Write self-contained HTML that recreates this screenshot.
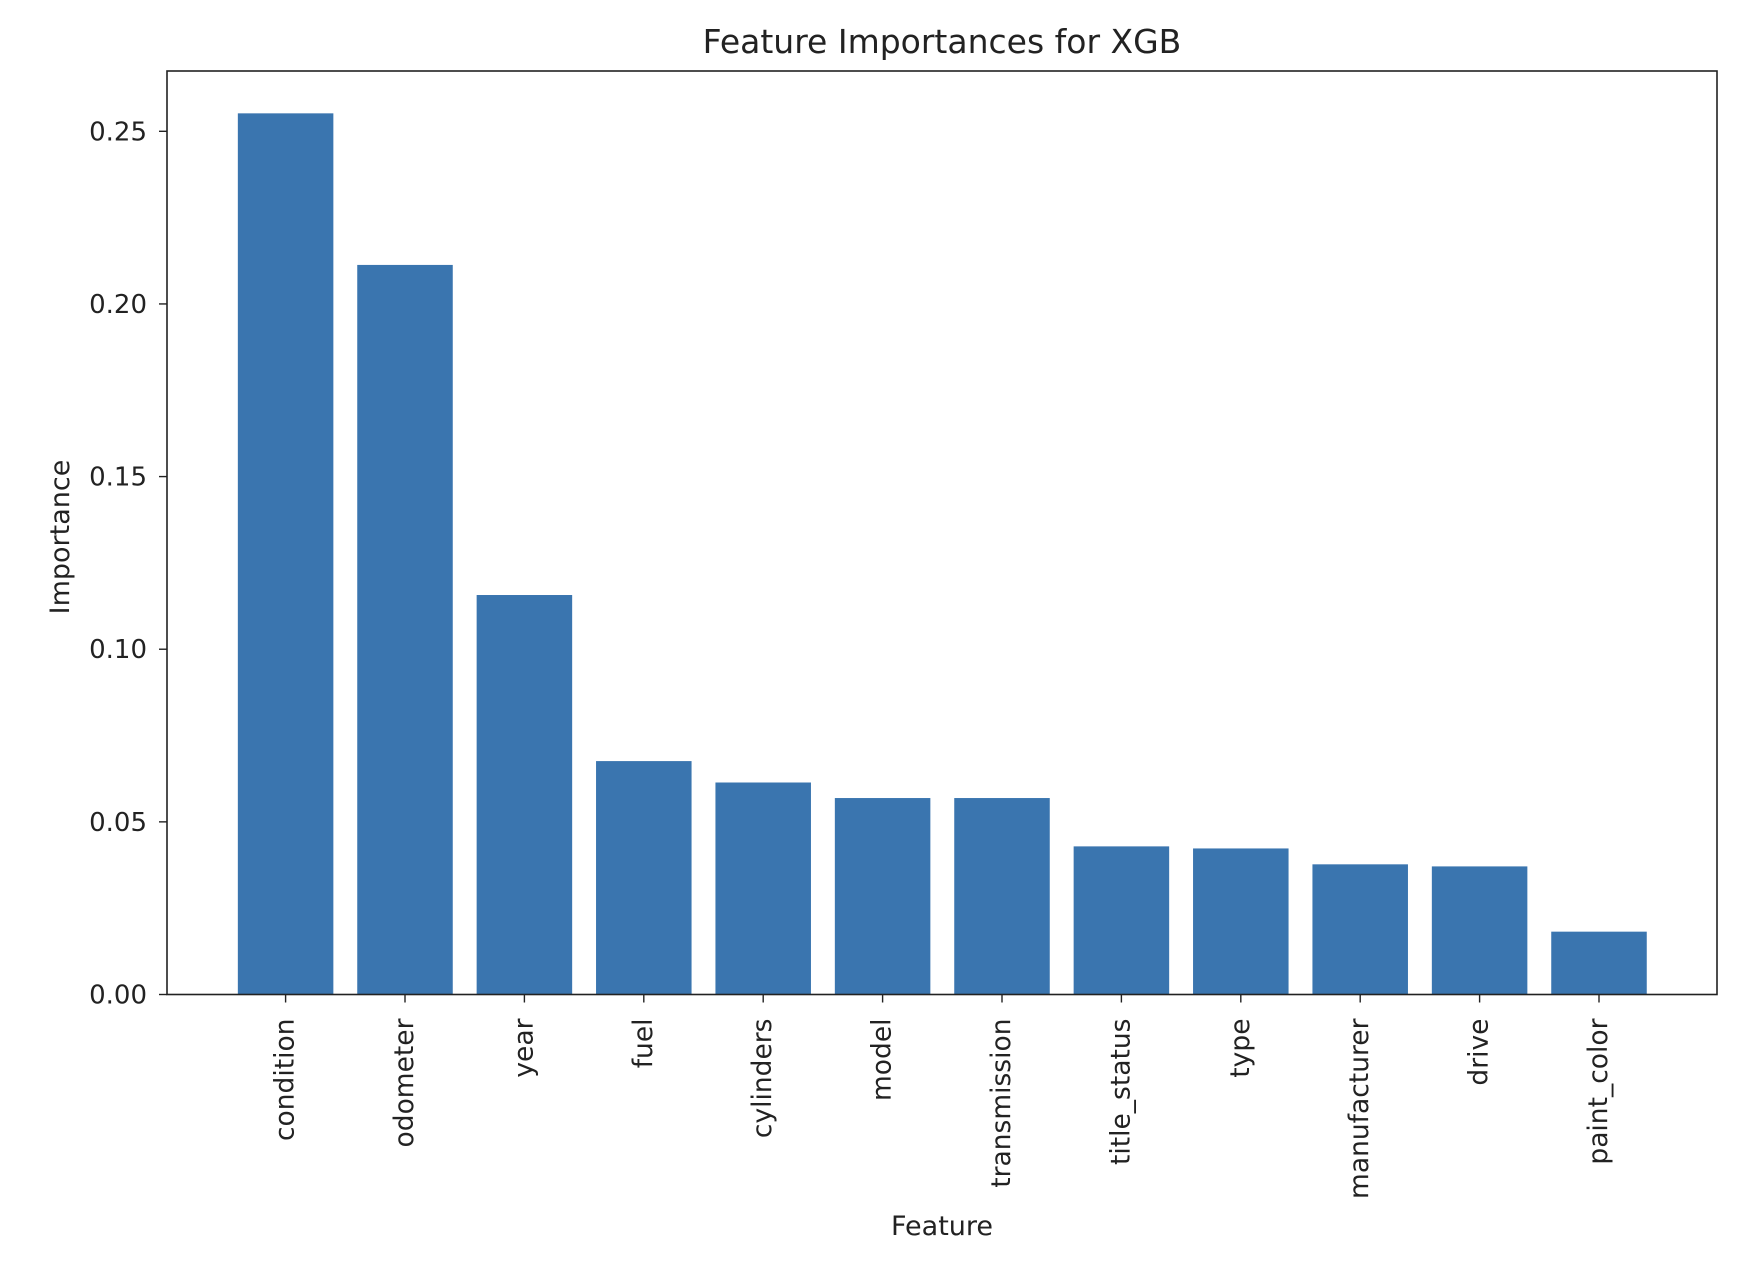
<!DOCTYPE html>
<html><head><meta charset="utf-8"><style>
html,body{margin:0;padding:0;background:#fff;}
svg{display:block;font-family:"DejaVu Sans","Liberation Sans",sans-serif;}
</style></head><body>
<svg id="chart" width="1760" height="1274" viewBox="0 0 1760 1274">
<text x="942" y="53" font-size="33" text-anchor="middle" fill="#222">Feature Importances for XGB</text>
<g id="bars"></g>
<g id="yticks"></g>
<g id="xticks"></g>
<rect x="167" y="71" width="1550" height="923.5" fill="none" stroke="#222" stroke-width="1.6"/>
<text x="942" y="1235" font-size="27" text-anchor="middle" fill="#222">Feature</text>
<text transform="translate(69,537) rotate(-90)" font-size="27" text-anchor="middle" fill="#222">Importance</text>
</svg>
<script>
const categories = ["condition","odometer","year","fuel","cylinders","model","transmission","title_status","type","manufacturer","drive","paint_color"];
const importances = [0.2552,0.2113,0.1157,0.0676,0.0614,0.0569,0.0569,0.0429,0.0423,0.0377,0.0371,0.0182];
const yTickValues = [0,0.05,0.10,0.15,0.20,0.25];
const yTickLabels = ["0.00","0.05","0.10","0.15","0.20","0.25"];

const NS="http://www.w3.org/2000/svg";
const left=167,right=1717,y0=994.5,y25=131.3;
function yScale(v){return y0-(y0-y25)*(v/0.25);}
const firstCenter=285.6;
const realStep=119.4;
function xCenter(i){return firstCenter+realStep*i;}
const bw=realStep*0.8;
const gb=document.getElementById('bars');
categories.forEach((c,i)=>{
  const r=document.createElementNS(NS,'rect');
  const v=importances[i];
  r.setAttribute('x',xCenter(i)-bw/2);
  r.setAttribute('y',yScale(v));
  r.setAttribute('width',bw);
  r.setAttribute('height',y0-yScale(v));
  r.setAttribute('fill','#3a75af');
  
  
  gb.appendChild(r);
});
const gy=document.getElementById('yticks');
yTickValues.forEach((v,i)=>{
  const y=yScale(v);
  const l=document.createElementNS(NS,'line');
  l.setAttribute('x1',left-8);l.setAttribute('x2',left);l.setAttribute('y1',y);l.setAttribute('y2',y);
  l.setAttribute('stroke','#222');l.setAttribute('stroke-width','1.4');
  
  
  gy.appendChild(l);
  const t=document.createElementNS(NS,'text');
  t.setAttribute('x',left-20);t.setAttribute('y',y+9);
  t.setAttribute('font-size','26');t.setAttribute('text-anchor','end');t.setAttribute('fill','#222');
  t.textContent=yTickLabels[i];
  
  
  gy.appendChild(t);
});
const gx=document.getElementById('xticks');
categories.forEach((c,i)=>{
  const x=xCenter(i);
  const l=document.createElementNS(NS,'line');
  l.setAttribute('x1',x);l.setAttribute('x2',x);l.setAttribute('y1',y0);l.setAttribute('y2',y0+8);
  l.setAttribute('stroke','#222');l.setAttribute('stroke-width','1.4');
  
  
  gx.appendChild(l);
  const t=document.createElementNS(NS,'text');
  t.setAttribute('transform','translate('+(x+8)+','+(y0+24)+') rotate(-90)');
  t.setAttribute('font-size','26.5');t.setAttribute('text-anchor','end');t.setAttribute('fill','#222');
  t.textContent=c;
  
  
  gx.appendChild(t);
});
</script>
</body></html>
